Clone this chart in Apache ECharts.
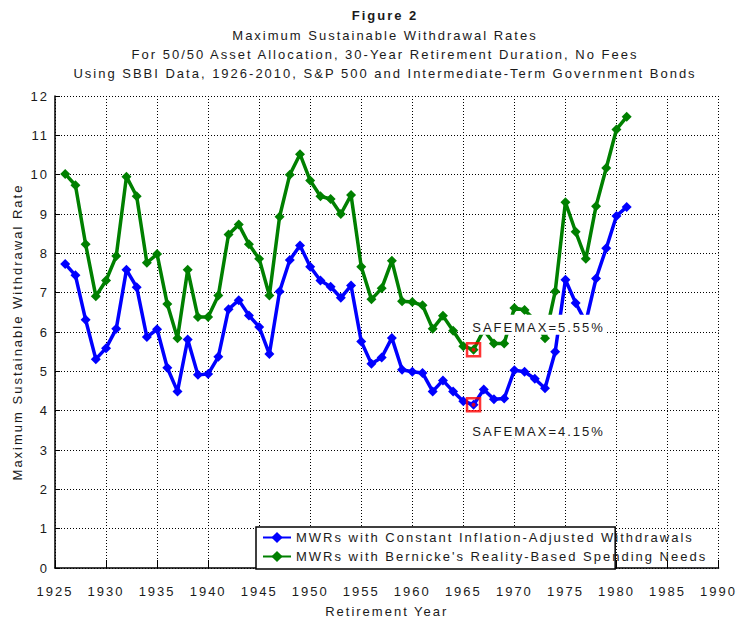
<!DOCTYPE html>
<html lang="en">
  <head>
    <meta charset="utf-8" />
    <title>Figure 2</title>
    <style>
      html, body { margin: 0; padding: 0; background: #fff; }
      #chart-container { width: 736px; height: 623px; }
      #chart-container text { letter-spacing: 2px; }
    </style>
  </head>
  <body>
    <div id="chart-container"></div>
    <script src="https://cdn.jsdelivr.net/npm/echarts@6/dist/echarts.min.js"></script>
    <script>
      // retirement start years
      var years = [
        1926, 1927, 1928, 1929, 1930, 1931, 1932, 1933, 1934, 1935,
        1936, 1937, 1938, 1939, 1940, 1941, 1942, 1943, 1944, 1945,
        1946, 1947, 1948, 1949, 1950, 1951, 1952, 1953, 1954, 1955,
        1956, 1957, 1958, 1959, 1960, 1961, 1962, 1963, 1964, 1965,
        1966, 1967, 1968, 1969, 1970, 1971, 1972, 1973, 1974, 1975,
        1976, 1977, 1978, 1979, 1980, 1981
      ];
      // MWRs with constant inflation-adjusted withdrawals
      var constantMWR = [
        7.73, 7.44, 6.31, 5.31, 5.59, 6.08, 7.58, 7.14, 5.87, 6.07,
        5.09, 4.49, 5.81, 4.91, 4.93, 5.37, 6.58, 6.81, 6.42, 6.13,
        5.44, 7.03, 7.83, 8.20, 7.66, 7.31, 7.15, 6.87, 7.18, 5.76,
        5.19, 5.35, 5.85, 5.04, 4.99, 4.96, 4.49, 4.77, 4.49, 4.24,
        4.15, 4.54, 4.29, 4.31, 5.03, 4.99, 4.81, 4.57, 5.50, 7.33,
        6.74, 6.25, 7.36, 8.13, 8.95, 9.18
      ];
      // MWRs with Bernicke's reality-based spending
      var bernickeMWR = [
        10.02, 9.73, 8.23, 6.91, 7.31, 7.93, 9.95, 9.45, 7.76, 7.98,
        6.71, 5.84, 7.58, 6.38, 6.38, 6.93, 8.48, 8.73, 8.23, 7.86,
        6.93, 8.93, 10.00, 10.52, 9.85, 9.45, 9.38, 9.00, 9.48, 7.66,
        6.83, 7.11, 7.81, 6.78, 6.76, 6.68, 6.08, 6.41, 6.03, 5.64,
        5.55, 6.05, 5.71, 5.71, 6.61, 6.56, 6.30, 5.84, 7.03, 9.30,
        8.55, 7.86, 9.20, 10.17, 11.15, 11.47
      ];
      var seriesNames = [
        "MWRs with Constant Inflation-Adjusted Withdrawals",
        "MWRs with Bernicke's Reality-Based Spending Needs"
      ];
      var safemaxYears = [1966, 1966];
      var safemaxValues = [5.55, 4.15];
      var safemaxLabels = ["SAFEMAX=5.55%", "SAFEMAX=4.15%"];

      var font = "'Liberation Sans Narrow', 'Arial Narrow', 'Liberation Sans', sans-serif";
      var ink = "#1a1a1a";

      function pairs(xs, ys) {
        return xs.map(function (x, i) { return [x, ys[i]]; });
      }

      var dom = document.getElementById("chart-container");
      var myChart = echarts.init(dom, null, { renderer: "svg" });

      // white boxes carrying the SAFEMAX text, one above and one below the marker
      var safemaxTags = safemaxYears.map(function (y, i) {
        return {
          value: [y, safemaxValues[i]],
          symbolOffset: i === 0 ? [65, -25] : [65, 24],
          label: { formatter: safemaxLabels[i] }
        };
      });

      var option = {
        animation: false,
        title: {
          text: "Figure 2",
          subtext: "Maximum Sustainable Withdrawal Rates\nFor 50/50 Asset Allocation, 30-Year Retirement Duration, No Fees\nUsing SBBI Data, 1926-2010, S&P 500 and Intermediate-Term Government Bonds",
          left: 385,
          textAlign: "center",
          top: 6,
          itemGap: 2,
          padding: 0,
          textStyle: { fontFamily: font, fontSize: 13, fontWeight: "bold", color: ink, lineHeight: 18 },
          subtextStyle: { fontFamily: font, fontSize: 13, color: ink, lineHeight: 19 }
        },
        legend: {
          data: seriesNames,
          orient: "vertical",
          left: 256,
          top: 527,
          itemWidth: 28,
          itemHeight: 14,
          itemGap: 6,
          padding: [4, 6, 6, 6],
          backgroundColor: "#fff",
          borderColor: "#000",
          borderWidth: 1.5,
          borderRadius: 0,
          selectedMode: false,
          textStyle: { fontFamily: font, fontSize: 13, color: ink, width: 415 }
        },
        grid: { left: 55, right: 13, top: 96, bottom: 46, containLabel: false },
        xAxis: {
          type: "value",
          min: 1925,
          max: 1990,
          interval: 5,
          offset: 8,
          name: "Retirement Year",
          nameLocation: "middle",
          nameGap: 29,
          nameTextStyle: { fontFamily: font, fontSize: 13, color: ink },
          axisLine: { lineStyle: { color: "#000", width: 1.5 } },
          axisTick: { inside: true, length: 8, lineStyle: { color: "#000" } },
          axisLabel: {
            fontFamily: font, fontSize: 13, color: ink, margin: 9,
            formatter: function (v) { return String(v); }
          },
          splitLine: { show: true, lineStyle: { color: "#000", type: [1, 2], width: 1 } }
        },
        yAxis: {
          type: "value",
          min: 0,
          max: 12,
          interval: 1,
          name: "Maximum Sustainable Withdrawal Rate",
          nameLocation: "middle",
          nameGap: 31,
          nameTextStyle: { fontFamily: font, fontSize: 13, color: ink },
          axisLine: { show: true, lineStyle: { color: "#000", width: 1.5 } },
          axisTick: { show: true, inside: true, length: 5, lineStyle: { color: "#000" } },
          axisLabel: { fontFamily: font, fontSize: 13, color: ink, margin: 6 },
          splitLine: { show: true, lineStyle: { color: "#000", type: [1, 2], width: 1 } }
        },
        series: [
          {
            name: seriesNames[0],
            type: "line",
            data: pairs(years, constantMWR),
            symbol: "diamond",
            symbolSize: 10,
            color: "#0000ff",
            lineStyle: { width: 3.5 },
            z: 3
          },
          {
            name: seriesNames[1],
            type: "line",
            data: pairs(years, bernickeMWR),
            symbol: "diamond",
            symbolSize: 10,
            color: "#008000",
            lineStyle: { width: 3.5 },
            z: 3
          },
          {
            name: "safemaxTag",
            type: "scatter",
            data: safemaxTags,
            symbol: "rect",
            symbolSize: [136, 20],
            itemStyle: { color: "#ffffff", opacity: 1 },
            label: {
              show: true,
              position: "inside",
              offset: [0, 3],
              fontFamily: font, fontSize: 13, color: ink
            },
            silent: true,
            z: 9
          },
          {
            name: "safemax",
            type: "scatter",
            data: pairs(safemaxYears, safemaxValues),
            symbol: "rect",
            symbolSize: 13,
            itemStyle: { color: "rgba(0,0,0,0)", borderColor: "#ff0000", borderWidth: 2.5 },
            z: 10
          },
          {
            name: "safemaxDot",
            type: "scatter",
            data: pairs(safemaxYears, safemaxValues),
            symbol: "circle",
            symbolSize: 4,
            itemStyle: { color: "#ff0000" },
            z: 11
          }
        ]
      };

      myChart.setOption(option);
      window.addEventListener("resize", myChart.resize);
    </script>
  </body>
</html>
